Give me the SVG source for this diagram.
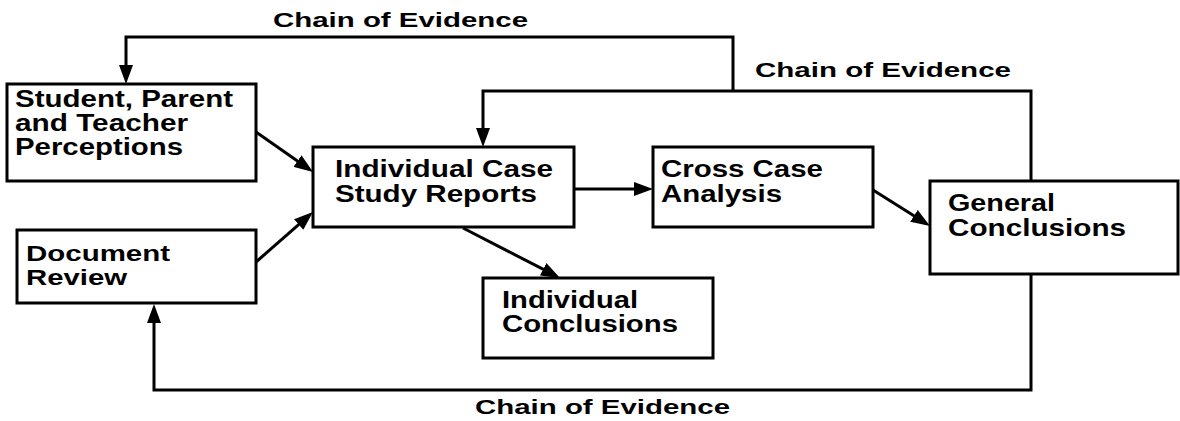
<svg xmlns="http://www.w3.org/2000/svg" width="1180" height="421" viewBox="0 0 1180 421">
<style>
.box{fill:#fff;stroke:#000;stroke-width:3}
.t{font-family:"Liberation Sans",Arial,Helvetica,sans-serif;font-weight:bold;font-size:23px;fill:#000}
.s{font-size:22px}
.c{font-family:"Liberation Sans",Arial,Helvetica,sans-serif;font-weight:bold;font-size:21px;fill:#000}
.ln{fill:none;stroke:#000;stroke-width:3;marker-end:url(#ah)}
</style>
<defs>
<marker id="ah" markerUnits="userSpaceOnUse" markerWidth="19" markerHeight="14" viewBox="0 0 19 14" refX="14" refY="7" orient="auto">
<path d="M0,0 L19,7 L0,14 z" fill="#000"/>
</marker>
</defs>
<rect width="1180" height="421" fill="#fff"/>
<g id="connectors">
<path class="ln" d="M1031,181 V91 H483 V142"/>
<path class="ln" d="M733,91 V37 H126 V79"/>
<path class="ln" d="M1031,274 V390 H154 V309"/>
<path class="ln" d="M256,132 L308.9,169.1"/>
<path class="ln" d="M256,262 L309.2,215.3"/>
<path class="ln" d="M463,228 L555.6,275.7"/>
<path class="ln" d="M574,189 L648,189"/>
<path class="ln" d="M873,190 L925.8,223.3"/>
<text class="c" x="273" y="27" textLength="255" lengthAdjust="spacingAndGlyphs">Chain of Evidence</text>
<text class="c" x="755" y="77" textLength="256" lengthAdjust="spacingAndGlyphs">Chain of Evidence</text>
<text class="c" x="475" y="414" textLength="255" lengthAdjust="spacingAndGlyphs">Chain of Evidence</text>
</g>
<g id="student">
<rect class="box" x="7" y="84" width="249" height="97"/>
<text class="t" x="15" y="107" textLength="218" lengthAdjust="spacingAndGlyphs">Student, Parent</text>
<text class="t" x="15" y="131" textLength="173" lengthAdjust="spacingAndGlyphs">and Teacher</text>
<text class="t" x="15" y="155" textLength="168" lengthAdjust="spacingAndGlyphs">Perceptions</text>
</g>
<g id="individual-case">
<rect class="box" x="313" y="147" width="261" height="80"/>
<text class="t" x="335" y="177" textLength="218" lengthAdjust="spacingAndGlyphs">Individual Case</text>
<text class="t" x="335" y="202" textLength="202" lengthAdjust="spacingAndGlyphs">Study Reports</text>
</g>
<g id="cross-case">
<rect class="box" x="653" y="147" width="220" height="80"/>
<text class="t" x="661" y="177" textLength="162" lengthAdjust="spacingAndGlyphs">Cross Case</text>
<text class="t" x="661" y="202" textLength="121" lengthAdjust="spacingAndGlyphs">Analysis</text>
</g>
<g id="general">
<rect class="box" x="930" y="181" width="248" height="93"/>
<text class="t" x="948" y="211" textLength="107" lengthAdjust="spacingAndGlyphs">General</text>
<text class="t" x="948" y="236" textLength="178" lengthAdjust="spacingAndGlyphs">Conclusions</text>
</g>
<g id="document">
<rect class="box" x="17" y="230" width="239" height="73"/>
<text class="t s" x="26" y="261" textLength="144" lengthAdjust="spacingAndGlyphs">Document</text>
<text class="t s" x="26" y="285" textLength="101" lengthAdjust="spacingAndGlyphs">Review</text>
</g>
<g id="individual-conclusions">
<rect class="box" x="483" y="278" width="230" height="80"/>
<text class="t" x="502" y="308" textLength="136" lengthAdjust="spacingAndGlyphs">Individual</text>
<text class="t" x="502" y="332" textLength="176" lengthAdjust="spacingAndGlyphs">Conclusions</text>
</g>
</svg>
